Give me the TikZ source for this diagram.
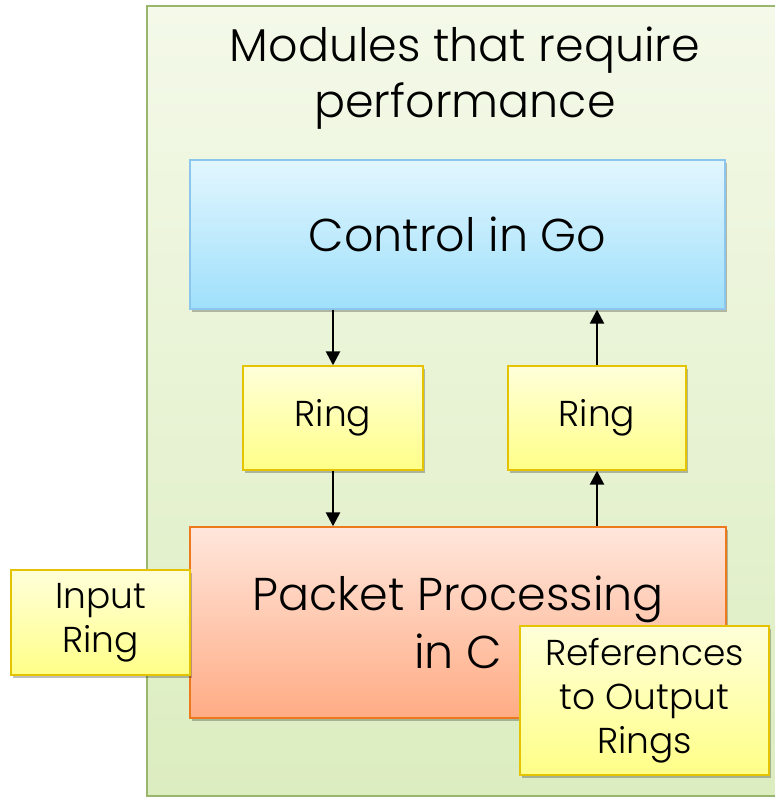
\documentclass[tikz,border=0pt]{standalone}
\usepackage{fontspec}
\setmainfont{Poppins Light}
\usetikzlibrary{arrows.meta,shadows}
\definecolor{frameline}{HTML}{9AB66C}
\definecolor{frametop}{HTML}{F4F9E9}
\definecolor{framebot}{HTML}{DCEDC0}
\definecolor{blueline}{HTML}{8CC6EC}
\definecolor{bluetop}{HTML}{E2F6FE}
\definecolor{bluebot}{HTML}{9FE0FB}
\definecolor{redline}{HTML}{EC7A1C}
\definecolor{redtop}{HTML}{FFE6DC}
\definecolor{redbot}{HTML}{FFAC84}
\definecolor{yelline}{HTML}{E4C400}
\definecolor{yeltop}{HTML}{FFFFDA}
\definecolor{yelbot}{HTML}{FFFF88}
\tikzset{
  box/.style={draw, line width=1.4pt, shading=axis, shading angle=0, align=center,
    inner sep=0pt, font=\fontsize{46}{58}\selectfont,
    drop shadow={shadow xshift=2pt, shadow yshift=-3pt, opacity=0.25, fill=black}},
  bluebox/.style={box, draw=blueline, top color=bluetop, bottom color=bluebot},
  redbox/.style={box, draw=redline, top color=redtop, bottom color=redbot},
  yellowbox/.style={box, draw=yelline, top color=yeltop, bottom color=yelbot,
    font=\fontsize{36}{44}\selectfont},
  flow/.style={line width=2.6pt, -{Triangle[width=14pt,length=14pt]}}
}
\begin{document}
\begin{tikzpicture}[x=1pt,y=-1pt]
\useasboundingbox (0,0) rectangle (774,797);
% outer frame
\draw[line width=1.4pt, draw=frameline, top color=frametop, bottom color=framebot]
  (147,6) rectangle (790,796);
\node[font=\fontsize{46}{56}\selectfont, align=center] (title) at (465,78) {Modules that require\\performance};
% main modules
\node[bluebox, minimum width=535pt, minimum height=149pt] (ctrl) at (457.5,234.5) {Control in Go};
\node[yellowbox, minimum width=180pt, minimum height=104pt] (ringa) at (333,418) {Ring};
\node[yellowbox, minimum width=178pt, minimum height=104pt] (ringb) at (597,418) {Ring};
\node[redbox, minimum width=536pt, minimum height=191pt] (pp) at (458,622.5)
  {Packet Processing\\in C};
\node[yellowbox, minimum width=179pt, minimum height=105pt] (inring) at (100.5,622.5) {\raisebox{-4pt}{Input}\\\raisebox{-4pt}{Ring}};
\node[yellowbox, minimum width=249pt, minimum height=149pt] (refs) at (644.5,700.5) {References\\to Output\\Rings};
% ring connections
\draw[flow] (ctrl.south -| ringa) -- (ringa.north);
\draw[flow] (ringa.south) -- (pp.north -| ringa);
\draw[flow] (pp.north -| ringb) -- (ringb.south);
\draw[flow] (ringb.north) -- (ctrl.south -| ringb);
\end{tikzpicture}
\end{document}
